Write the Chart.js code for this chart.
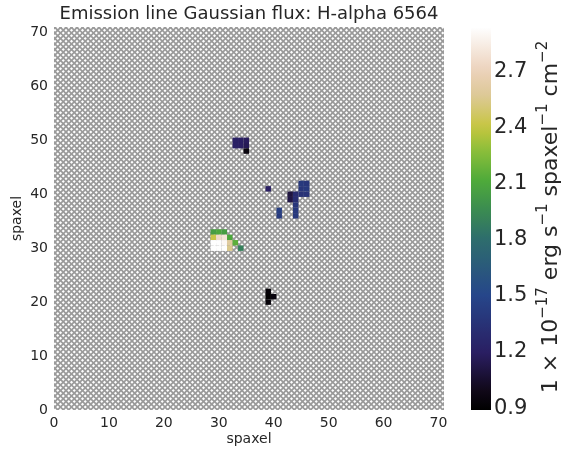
<!DOCTYPE html>
<html>
<head>
<meta charset="utf-8">
<script src="https://cdn.jsdelivr.net/npm/chart.js@4.4.0/dist/chart.umd.min.js"></script>
<style>
  html, body { margin: 0; padding: 0; background: #fff; }
  #wrap { position: relative; width: 564px; height: 454px; }
  #map { position: absolute; left: 0; top: 0; }
  #bar { position: absolute; left: 460px; top: 0; }
</style>
</head>
<body>
<div id="wrap">
  <canvas id="map" width="460" height="454"></canvas>
  <canvas id="bar" width="104" height="454"></canvas>
</div>
<script>
// spaxels with a fitted H-alpha flux (everything else is masked)
const cellX = [33, 34, 35, 33, 34, 35, 35,
               39, 39, 39, 40,
               39, 41, 41, 43, 43, 44, 44, 44, 44, 44, 45, 46, 45, 46, 45, 46,
               29, 30, 31, 29, 30, 31, 32, 29, 30, 31, 32, 33, 29, 30, 31, 32, 34];
const cellY = [50, 50, 50, 49, 49, 49, 48,
               22, 21, 20, 21,
               41, 37, 36, 40, 39, 40, 39, 38, 37, 36, 42, 42, 41, 41, 40, 40,
               33, 33, 33, 32, 32, 32, 32, 31, 31, 31, 31, 31, 30, 30, 30, 30, 30];
const cellFlux = [1.22, 1.2, 1.18, 1.22, 1.2, 1.16, 0.95,
                  0.92, 0.9, 0.93, 0.95,
                  1.2, 1.45, 1.42, 1.1, 1.12, 1.3, 1.32, 1.38, 1.4, 1.4, 1.4, 1.38, 1.38, 1.4, 1.35, 1.36,
                  2.05, 2.1, 2.05, 2.42, 2.75, 2.8, 2.1, 2.95, 2.95, 2.9, 2.6, 2.15, 3.0, 3.0, 2.95, 2.55, 1.9];

const axisTicks = [0, 10, 20, 30, 40, 50, 60, 70];
const fluxTicks = [0.9, 1.2, 1.5, 1.8, 2.1, 2.4, 2.7];
const fluxMin = 0.89, fluxMax = 2.93;

const FONT = 'DejaVu Sans';
const TXT = '#262626';

// gist_earth-like colour map
const cmap = [
  [0.00, [0, 0, 0]],
  [0.05, [16, 8, 24]],
  [0.15, [42, 30, 98]],
  [0.30, [38, 70, 138]],
  [0.45, [46, 110, 108]],
  [0.52, [58, 138, 82]],
  [0.60, [78, 170, 58]],
  [0.68, [140, 190, 58]],
  [0.74, [198, 198, 62]],
  [0.82, [220, 200, 148]],
  [0.89, [236, 210, 188]],
  [1.00, [254, 254, 254]]
];
function fluxColor(v) {
  let t = (v - fluxMin) / (fluxMax - fluxMin);
  t = Math.max(0, Math.min(1, t));
  for (let i = 1; i < cmap.length; i++) {
    if (t <= cmap[i][0]) {
      const a = cmap[i - 1], b = cmap[i];
      const f = (t - a[0]) / (b[0] - a[0]);
      const c = a[1].map((x, k) => Math.round(x + (b[1][k] - x) * f));
      return 'rgb(' + c.join(',') + ')';
    }
  }
  return 'rgb(254,254,254)';
}

const cells = cellX.map((x, i) => ({x: x, y: cellY[i], v: cellFlux[i]}));

// hatch for the masked spaxels
const tile = document.createElement('canvas');
tile.width = 11; tile.height = 11;
const tc = tile.getContext('2d');
tc.fillStyle = '#ffffff';
tc.fillRect(0, 0, 11, 11);
tc.strokeStyle = '#9a9a9a';
tc.lineWidth = 1.7;
for (let k = -2; k <= 4; k++) {
  const c = k * 5.5;
  tc.beginPath(); tc.moveTo(c - 11, 22); tc.lineTo(c + 22, -11); tc.stroke();
  tc.beginPath(); tc.moveTo(c - 11, -11); tc.lineTo(c + 22, 22); tc.stroke();
}

const hatchPlugin = {
  id: 'hatch',
  beforeDatasetsDraw(chart) {
    const {ctx, chartArea: a} = chart;
    ctx.save();
    ctx.fillStyle = ctx.createPattern(tile, 'repeat');
    ctx.fillRect(a.left, a.top, a.right - a.left, a.bottom - a.top);
    ctx.restore();
  }
};

// title centred over the plot area
const titlePlugin = {
  id: 'plotTitle',
  afterDraw(chart) {
    const {ctx, chartArea: a} = chart;
    ctx.save();
    ctx.font = '18px "' + FONT + '"';
    ctx.fillStyle = TXT;
    ctx.textAlign = 'center';
    ctx.textBaseline = 'alphabetic';
    ctx.fillText('Emission line Gaussian flux: H-alpha 6564', (a.left + a.right) / 2, 19);
    ctx.restore();
  }
};

function cellRadius(c) {
  const sx = c.chart.scales.x, sy = c.chart.scales.y;
  const w = Math.abs(sx.getPixelForValue(1) - sx.getPixelForValue(0));
  const h = Math.abs(sy.getPixelForValue(1) - sy.getPixelForValue(0));
  return (w + h) / 2 / Math.SQRT2;
}

new Chart(document.getElementById('map'), {
  type: 'scatter',
  data: {
    datasets: [{
      data: cells,
      pointStyle: 'rect',
      pointRadius: cellRadius,
      pointHoverRadius: cellRadius,
      backgroundColor: c => fluxColor(c.raw.v),
      borderWidth: 0
    }]
  },
  options: {
    responsive: false,
    animation: false,
    events: [],
    layout: {padding: {left: 0, right: 16, top: 27, bottom: 4}},
    plugins: {
      legend: {display: false},
      tooltip: {enabled: false}
    },
    scales: {
      x: {
        type: 'linear', min: 0, max: 71,
        grid: {display: false, drawTicks: false},
        border: {display: false},
        afterBuildTicks: s => { s.ticks = axisTicks.map(v => ({value: v})); },
        afterFit: s => { s.height = 40; },
        ticks: {color: TXT, font: {family: FONT, size: 14}, padding: 5, maxRotation: 0},
        title: {display: true, text: 'spaxel', color: TXT, font: {family: FONT, size: 14}, padding: {top: 0, bottom: 2}}
      },
      y: {
        type: 'linear', min: 0, max: 71,
        grid: {display: false, drawTicks: false},
        border: {display: false},
        afterBuildTicks: s => { s.ticks = axisTicks.map(v => ({value: v})); },
        afterFit: s => { s.width = 54; },
        ticks: {color: TXT, font: {family: FONT, size: 14}, padding: 6},
        title: {display: true, text: 'spaxel', color: TXT, font: {family: FONT, size: 14}, padding: {top: 9, bottom: 0}}
      }
    }
  },
  plugins: [hatchPlugin, titlePlugin]
});

// colour bar label with superscripts, reading bottom to top
const cbLabel = [
  ['1 \u00d7 10', false], ['\u221217', true],
  [' erg s', false], ['\u22121', true],
  [' spaxel', false], ['\u22121', true],
  [' cm', false], ['\u22122', true]
];
const cbLabelPlugin = {
  id: 'cbLabel',
  afterDraw(chart) {
    const {ctx, chartArea: a} = chart;
    const size = 22;
    const big = size + 'px "' + FONT + '"', small = Math.round(size * 0.7) + 'px "' + FONT + '"';
    ctx.save();
    let total = 0;
    cbLabel.forEach(r => { ctx.font = r[1] ? small : big; total += ctx.measureText(r[0]).width; });
    ctx.translate(97, (a.top + a.bottom) / 2 - 2);
    ctx.rotate(-Math.PI / 2);
    ctx.fillStyle = TXT;
    ctx.textBaseline = 'alphabetic';
    let x = -total / 2;
    cbLabel.forEach(r => {
      ctx.font = r[1] ? small : big;
      ctx.fillText(r[0], x, r[1] ? -size * 0.45 : 0);
      x += ctx.measureText(r[0]).width;
    });
    ctx.restore();
  }
};

new Chart(document.getElementById('bar'), {
  type: 'bar',
  data: {
    labels: ['flux'],
    datasets: [{
      data: [[fluxMin, fluxMax]],
      barPercentage: 1,
      categoryPercentage: 1,
      borderWidth: 0,
      backgroundColor: c => {
        const s = c.chart.scales.y;
        if (!s || !c.chart.chartArea) return '#888';
        const y0 = s.getPixelForValue(fluxMin), y1 = s.getPixelForValue(fluxMax);
        if (!isFinite(y0) || !isFinite(y1)) return '#888';
        const g = c.chart.ctx.createLinearGradient(0, y0, 0, y1);
        for (let i = 0; i <= 40; i++) {
          g.addColorStop(i / 40, fluxColor(fluxMin + (fluxMax - fluxMin) * i / 40));
        }
        return g;
      }
    }]
  },
  options: {
    responsive: false,
    animation: false,
    events: [],
    layout: {padding: {left: 11, right: 0, top: 28, bottom: 44}},
    plugins: {legend: {display: false}, tooltip: {enabled: false}},
    scales: {
      x: {display: false},
      y: {
        position: 'right',
        min: fluxMin, max: fluxMax,
        grid: {display: false, drawTicks: false},
        border: {display: false},
        afterBuildTicks: s => { s.ticks = fluxTicks.map(v => ({value: v})); },
        afterFit: s => { s.width = 73; },
        ticks: {color: TXT, font: {family: FONT, size: 21}, padding: 3, callback: v => v.toFixed(1)}
      }
    }
  },
  plugins: [cbLabelPlugin]
});
</script>
</body>
</html>
